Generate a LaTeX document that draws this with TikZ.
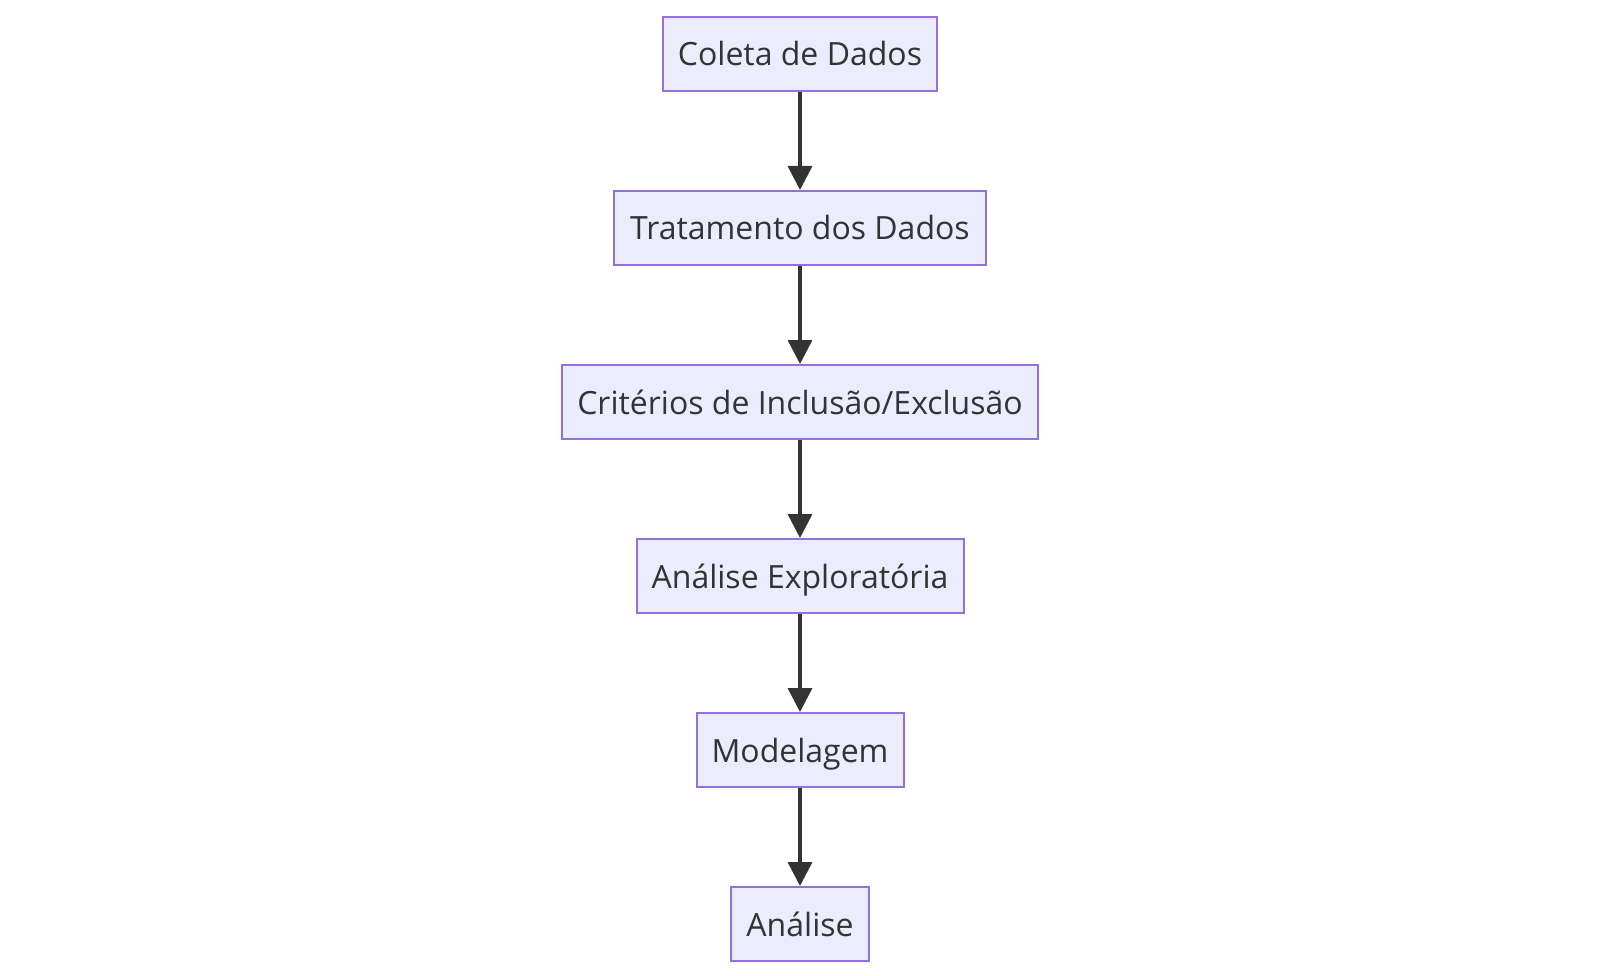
\documentclass[tikz,border=0pt]{standalone}
\usepackage{fontspec}
\setmainfont{Open Sans}
\usetikzlibrary{arrows.meta}
\definecolor{boxfill}{HTML}{ECECFF}
\definecolor{boxline}{HTML}{9370DB}
\definecolor{ink}{HTML}{333333}
\begin{document}
\begin{tikzpicture}[x=1pt,y=-1pt,
  stepbox/.style={draw=boxline, fill=boxfill, line width=2pt, minimum height=74pt,
    inner sep=0pt, text height=30pt, text depth=6pt, text=ink,
    font=\fontsize{32pt}{38pt}\selectfont, anchor=north},
  flow/.style={draw=ink, line width=3.5pt, -{Triangle[width=24pt,length=24pt]}}]
\useasboundingbox (0,0) rectangle (1600,976);
\node[stepbox, minimum width=274pt] (n1) at (800,16) {Coleta de Dados};
\node[stepbox, minimum width=372pt] (n2) at (800,190) {Tratamento dos Dados};
\node[stepbox, minimum width=476pt] (n3) at (800,364) {Critérios de Inclusão/Exclusão};
\node[stepbox, minimum width=327pt] (n4) at (800,538) {Análise Exploratória};
\node[stepbox, minimum width=207pt] (n5) at (800,712) {Modelagem};
\node[stepbox, minimum width=138pt] (n6) at (800,886) {Análise};
\draw[flow] (n1.south) -- (n2.north);
\draw[flow] (n2.south) -- (n3.north);
\draw[flow] (n3.south) -- (n4.north);
\draw[flow] (n4.south) -- (n5.north);
\draw[flow] (n5.south) -- (n6.north);
\end{tikzpicture}
\end{document}
